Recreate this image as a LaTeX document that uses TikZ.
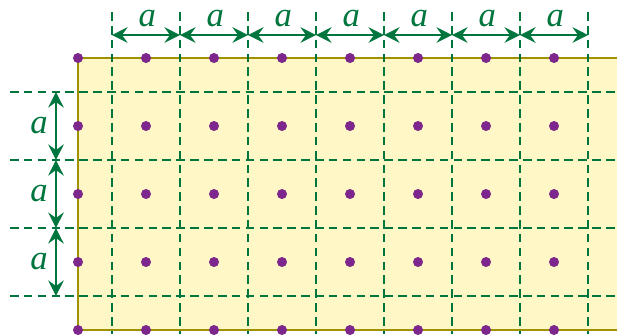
\documentclass[tikz,border=0pt]{standalone}
\usepackage{amsmath}
\usepackage{amssymb}
\usepackage{fontspec}
\setmainfont{Liberation Serif}
\usepackage{tikz}
\usetikzlibrary{arrows.meta,positioning}
\definecolor{latgreen}{RGB}{0,118,62}
\definecolor{sitepurple}{RGB}{125,38,140}
\definecolor{sheetfill}{RGB}{255,248,198}
\definecolor{sheetedge}{RGB}{160,145,0}

\begin{document}
\begin{tikzpicture}
[x=1cm,y=1cm,
 site/.style={circle,fill=sitepurple,inner sep=0pt,minimum size=4.2pt},
 cellline/.style={draw=latgreen,dash pattern=on 3.6pt off 2.2pt,line width=1pt},
 dimarrow/.style={draw=latgreen,line width=1pt,{Stealth[length=6.5pt,width=6.5pt,inset=2.3pt]}-{Stealth[length=6.5pt,width=6.5pt,inset=2.3pt]}},
 dimlabel/.style={text=latgreen,inner sep=0pt,font=\fontsize{14.5}{17}\selectfont\itshape}]
\useasboundingbox (-1.147,-0.059) rectangle (7.926,4.853);

% sheet
\fill[sheetfill] (0,0) rectangle (7.926,4);
\draw[sheetedge,line width=1pt] (7.926,4) -- (0,4) -- (0,0) -- (7.926,0);

% cell boundaries
\foreach \i in {1,...,8}
{
  \coordinate (vt\i) at (\i-0.5,4.676);
  \coordinate (vb\i) at (\i-0.5,-0.06);
  \draw[cellline] (vt\i) -- (vb\i);
}
\foreach \j in {1,...,4}
{
  \coordinate (hl\j) at (-1,\j-0.5);
  \coordinate (hr\j) at (7.926,\j-0.5);
  \draw[cellline] (hl\j) -- (hr\j);
}

% lattice sites
\foreach \i in {0,...,7}
  \foreach \j in {0,...,4}
    \node[site] (s\i\j) at (\i,\j) {};

% spacing along the top
\foreach \i in {1,...,8}
  \coordinate (ta\i) at (\i-0.5,4.338);
\foreach \i [evaluate=\i as \k using int(\i+1)] in {1,...,7}
{
  \draw[dimarrow] (ta\i) -- (ta\k);
  \node[dimlabel] (la\i) at (\i+0.02,4.588) {a};
}

% spacing along the left
\foreach \j in {1,...,4}
  \coordinate (ya\j) at (-0.324,\j-0.5);
\foreach \j [evaluate=\j as \k using int(\j+1)] in {1,...,3}
{
  \draw[dimarrow] (ya\j) -- (ya\k);
  \node[dimlabel] (lb\j) at (-0.574,\j) {a};
}
\end{tikzpicture}
\end{document}
